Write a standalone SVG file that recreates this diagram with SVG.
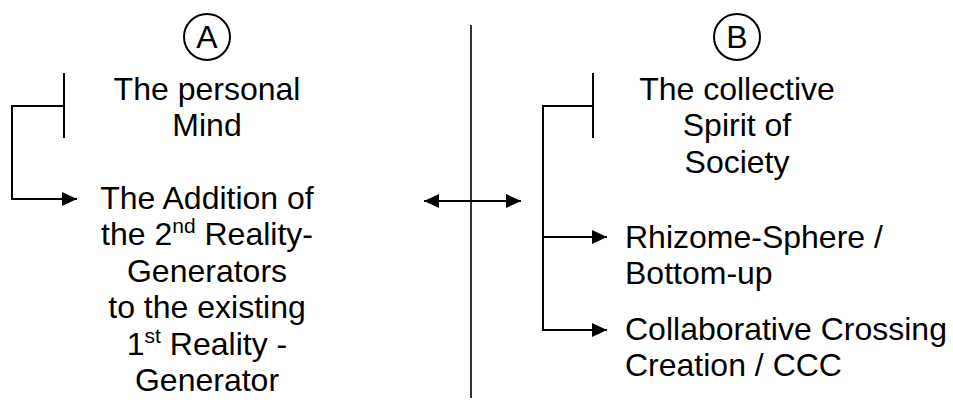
<svg xmlns="http://www.w3.org/2000/svg" width="953" height="405" viewBox="0 0 953 405">
<style>
text{font-family:"Liberation Sans",Arial,sans-serif;font-size:32px;fill:#000}
.c{text-anchor:middle}
.ln{fill:none;stroke:#000;stroke-width:2}
.thin{fill:none;stroke:#000;stroke-width:1.6}
.sup{font-size:21px}
</style>
<defs>
<marker id="ah" markerUnits="userSpaceOnUse" markerWidth="16" markerHeight="16" viewBox="0 0 16 16" refX="15" refY="8" orient="auto-start-reverse">
<path d="M0,1 L15,8 L0,15 Z" fill="#000"/>
</marker>
</defs>
<rect width="953" height="405" fill="#fff"/>
<g id="labelA">
<circle cx="207" cy="37" r="23" class="ln"/>
<text class="c" x="207" y="48">A</text>
</g>
<g id="labelB">
<circle cx="737" cy="37" r="23" class="ln"/>
<text class="c" x="737" y="48">B</text>
</g>
<g id="personalMind">
<text class="c" x="207" y="100">The personal</text>
<text class="c" x="207" y="136">Mind</text>
</g>
<g id="addition">
<text class="c" x="207" y="209">The Addition of</text>
<text class="c" x="207" y="245">the 2<tspan class="sup" dy="-12">nd</tspan><tspan dy="12"> Reality-</tspan></text>
<text class="c" x="207" y="282">Generators</text>
<text class="c" x="207" y="318">to the existing</text>
<text class="c" x="207" y="355">1<tspan class="sup" dy="-12">st</tspan><tspan dy="12"> Reality -</tspan></text>
<text class="c" x="207" y="391">Generator</text>
</g>
<g id="collectiveSpirit">
<text class="c" x="737" y="100">The collective</text>
<text class="c" x="737" y="136">Spirit of</text>
<text class="c" x="737" y="173">Society</text>
</g>
<g id="rhizome">
<text x="625" y="248">Rhizome-Sphere /</text>
<text x="625" y="284">Bottom-up</text>
</g>
<g id="ccc">
<text x="625" y="340">Collaborative Crossing</text>
<text x="625" y="376">Creation / CCC</text>
</g>
<g id="connectors">
<line class="thin" x1="471" y1="25" x2="471" y2="398"/>
<line class="ln" x1="424" y1="201" x2="521" y2="201" marker-start="url(#ah)" marker-end="url(#ah)"/>
<line class="ln" x1="64" y1="73" x2="64" y2="138"/>
<polyline class="ln" points="64,106 12,106 12,199 77,199" marker-end="url(#ah)"/>
<line class="ln" x1="593" y1="73" x2="593" y2="138"/>
<polyline class="ln" points="593,106 543,106 543,330 607,330" marker-end="url(#ah)"/>
<line class="ln" x1="543" y1="237" x2="607" y2="237" marker-end="url(#ah)"/>
</g>
</svg>
